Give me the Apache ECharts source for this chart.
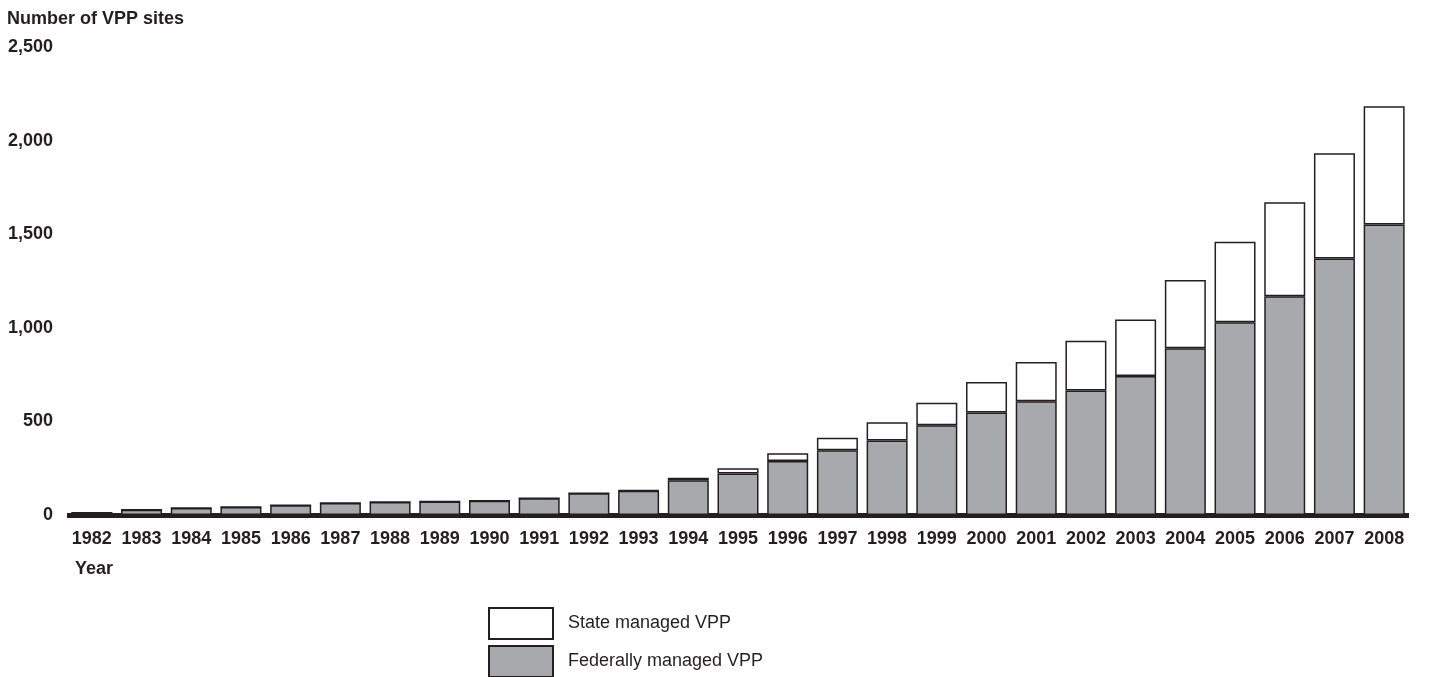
<!DOCTYPE html>
<html>
<head>
<meta charset="utf-8">
<script src="https://cdn.jsdelivr.net/npm/echarts@6/dist/echarts.min.js"></script>
<style>
  html, body { margin: 0; padding: 0; background: #fff; }
  #chart { width: 1433px; height: 677px; }
</style>
</head>
<body>
<div id="chart"></div>
<script>
var years = ['1982', '1983', '1984', '1985', '1986', '1987', '1988', '1989', '1990',
    '1991', '1992', '1993', '1994', '1995', '1996', '1997', '1998', '1999', '2000',
    '2001', '2002', '2003', '2004', '2005', '2006', '2007', '2008'];
var federal = [12, 28, 37, 43, 52, 64, 70, 72, 76, 90, 116, 130, 186, 222, 288, 346,
    398, 480, 548, 607, 665, 742, 891, 1030, 1169, 1370, 1552];
var state = [0, 0, 0, 0, 0, 0, 0, 0, 0, 0, 0, 2, 13, 28, 42, 67, 98, 120, 162,
    210, 266, 303, 364, 430, 502, 563, 631];
var yTicks = [0, 500, 1000, 1500, 2000, 2500];

var ink = '#231f20';
var font = 'Liberation Sans, Arial, sans-serif';

// one legend per entry so they stack like the original key
function legendItem(name, top) {
    return {
        orient: 'vertical',
        left: 488,
        top: top,
        padding: 0,
        itemWidth: 64,
        itemHeight: 31,
        icon: 'rect',
        data: [name],
        textStyle: { fontSize: 18, color: ink, fontFamily: font, padding: [0, 0, 0, 10] }
    };
}

var myChart = echarts.init(document.getElementById('chart'));
myChart.setOption({
    animation: false,
    textStyle: { fontFamily: font },
    title: [{
        text: 'Number of VPP sites',
        left: 7,
        top: 10,
        padding: 0,
        textStyle: { fontSize: 18, fontWeight: 'bold', color: ink, fontFamily: font }
    }, {
        text: 'Year',
        left: 75,
        top: 560,
        padding: 0,
        textStyle: { fontSize: 18, fontWeight: 'bold', color: ink, fontFamily: font }
    }],
    legend: [
        legendItem('State managed VPP', 607),
        legendItem('Federally managed VPP', 645)
    ],
    grid: {
        left: 67,
        right: 24,
        top: 47,
        bottom: 162
    },
    xAxis: {
        type: 'category',
        data: years,
        axisLine: { show: true, lineStyle: { color: ink, width: 5, cap: 'butt' } },
        axisTick: { show: false },
        axisLabel: {
            interval: 0,
            margin: 15,
            fontSize: 18,
            fontWeight: 'bold',
            color: ink,
            fontFamily: font
        }
    },
    yAxis: {
        type: 'value',
        min: 0,
        max: yTicks[yTicks.length - 1],
        interval: yTicks[1] - yTicks[0],
        axisLine: { show: false },
        axisTick: { show: false },
        splitLine: { show: false },
        axisLabel: {
            margin: 14,
            fontSize: 18,
            fontWeight: 'bold',
            color: ink,
            fontFamily: font,
            formatter: function (v) {
                return v.toLocaleString('en-US');
            }
        }
    },
    series: [{
        name: 'Federally managed VPP',
        type: 'bar',
        stack: 'vpp',
        barWidth: 41,
        itemStyle: { color: '#a7a9ac', borderColor: ink, borderWidth: 1.5 },
        data: federal
    }, {
        name: 'State managed VPP',
        type: 'bar',
        stack: 'vpp',
        barWidth: 41,
        itemStyle: { color: '#ffffff', borderColor: ink, borderWidth: 1.5 },
        data: state
    }]
});
</script>
</body>
</html>
